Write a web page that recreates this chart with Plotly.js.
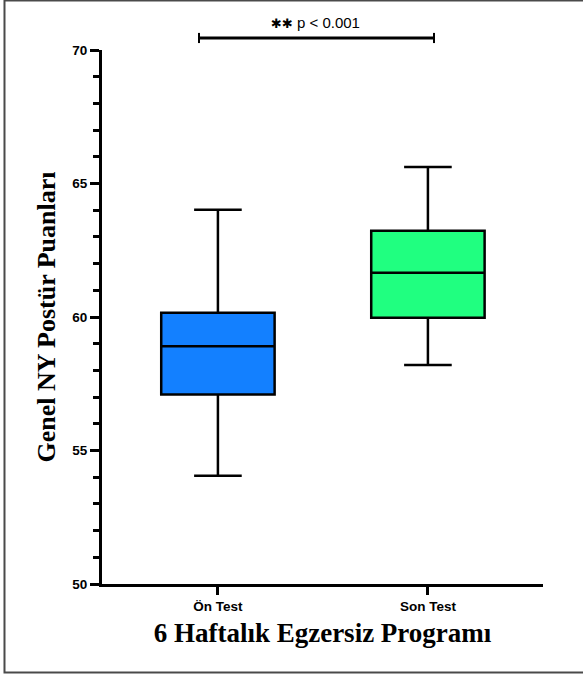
<!DOCTYPE html>
<html>
<head>
<meta charset="utf-8">
<script src="https://cdn.plot.ly/plotly-3.0.1.min.js"></script>
<style>html,body{margin:0;padding:0;background:#fff;}#chart{width:583px;height:677px;}</style>
</head>
<body>
<div id="chart"></div>
<script>
// Data
const categories = ["Ön Test", "Son Test"];
const lowerWhisker = [54.05, 58.2];
const q1Values = [57.1, 59.97];
const medianValues = [58.9, 61.66];
const q3Values = [60.16, 63.23];
const upperWhisker = [64.02, 65.62];
const boxColors = ["#1380FF", "#20FF80"];
const yTickVals = [50, 55, 60, 65, 70];
const starText = "✱✱";
const pText = "p &lt; 0.001";
const yTitle = "Genel NY Postür Puanları";
const xTitle = "6 Haftalık Egzersiz Programı";

const traces = categories.map((c, i) => ({
  type: "box",
  x: [c],
  q1: [q1Values[i]],
  median: [medianValues[i]],
  q3: [q3Values[i]],
  lowerfence: [lowerWhisker[i]],
  upperfence: [upperWhisker[i]],
  boxpoints: false,
  width: 0.54,
  whiskerwidth: 0.42,
  fillcolor: boxColors[i],
  line: {color: "#000", width: 2.5},
  hoverinfo: "skip",
  showlegend: false
}));

const layout = {
  width: 583, height: 677,
  margin: {l: 102, r: 40, t: 50, b: 93},
  paper_bgcolor: "#fff", plot_bgcolor: "#fff",
  showlegend: false,
  xaxis: {
    type: "category",
    range: [-0.552, 1.548],
    showline: true, linecolor: "#000", linewidth: 3,
    ticks: "outside", ticklen: 8, tickwidth: 3, tickcolor: "#000",
    showgrid: false, zeroline: false,
    tickfont: {family: "Liberation Sans, Arial", size: 13.5, color: "#000", weight: "bold"},
    title: {text: xTitle, standoff: 10, font: {family: "Liberation Serif, Times New Roman", size: 27, color: "#000", weight: "bold"}}
  },
  yaxis: {
    range: [50, 70],
    tickvals: yTickVals,
    showline: true, linecolor: "#000", linewidth: 3,
    ticks: "outside", ticklen: 9, tickwidth: 3, tickcolor: "#000",
    minor: {dtick: 1, ticks: "outside", ticklen: 6, tickwidth: 3, tickcolor: "#000", showgrid: false},
    showgrid: false, zeroline: false,
    tickfont: {family: "Liberation Sans, Arial", size: 13.5, color: "#000", weight: "bold"},
    title: {text: yTitle, standoff: 10, font: {family: "Liberation Serif, Times New Roman", size: 26, color: "#000", weight: "bold"}}
  },
  shapes: [
    {type: "rect", xref: "paper", yref: "paper", x0: -0.2211, x1: 1.1066, y0: -0.1657, y1: 1.0927,
     line: {color: "#4a4a4a", width: 2}, fillcolor: "rgba(0,0,0,0)", layer: "below"},
    {type: "line", xref: "paper", yref: "paper", x0: 0.2200, x1: 0.7528, y0: 1.0225, y1: 1.0225, line: {color: "#000", width: 3}},
    {type: "line", xref: "paper", yref: "paper", x0: 0.2200, x1: 0.2200, y0: 1.013, y1: 1.032, line: {color: "#000", width: 2}},
    {type: "line", xref: "paper", yref: "paper", x0: 0.7528, x1: 0.7528, y0: 1.013, y1: 1.032, line: {color: "#000", width: 2}}
  ],
  annotations: [
    {xref: "paper", yref: "paper", x: 0.484, y: 1.051, xanchor: "center", yanchor: "middle", showarrow: false,
     text: "<span style='font-family:DejaVu Sans;font-size:13px'>" + starText + "</span> " + pText,
     font: {family: "Liberation Sans, Arial", size: 15, color: "#000"}}
  ]
};

Plotly.newPlot("chart", traces, layout, {displayModeBar: false, staticPlot: true});
</script>
</body>
</html>
